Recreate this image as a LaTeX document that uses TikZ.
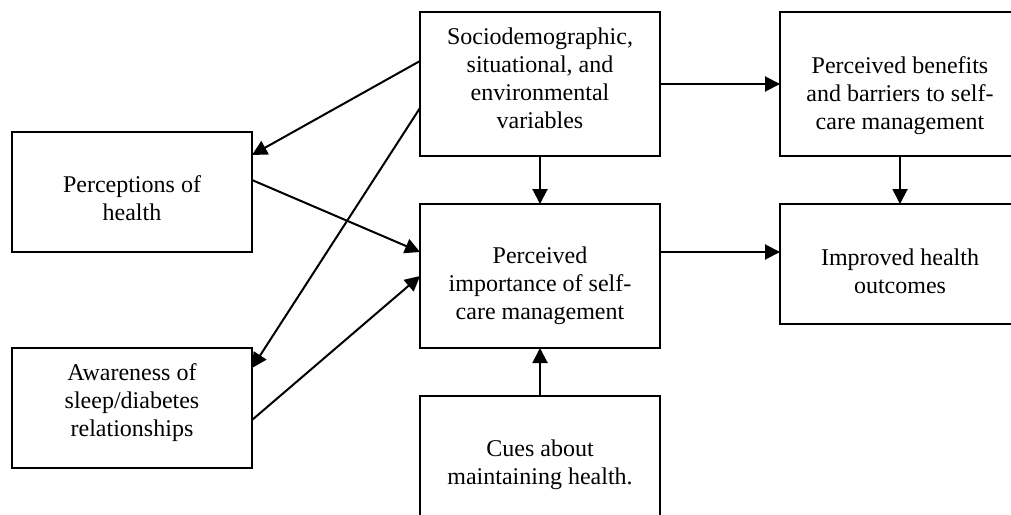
\documentclass[tikz,border=0pt]{standalone}
\usepackage{fontspec}
\setmainfont{Liberation Serif}
\usetikzlibrary{arrows.meta,positioning}

\begin{document}
\begin{tikzpicture}[x=0.5pt,y=-0.5pt,line width=1pt,
  >={Triangle[length=7.5pt,width=7.5pt]},
  box/.style={draw,line width=1pt,minimum width=120pt,minimum height=72pt,
    inner sep=0pt,outer sep=0pt,align=center,font=\fontsize{12}{14}\selectfont},
  short/.style={minimum height=60pt}]
\useasboundingbox (0,0) rectangle (1011,514);
\clip (0,0) rectangle (1011,514);
% struts only nudge the text inside the boxes
\node[box] (socio) at (540,84) {Sociodemographic,\\situational, and\\environmental\\variables\rule[-6.2pt]{0pt}{0pt}};
\node[box] (benef) [right=60pt of socio] {\rule{0pt}{20.4pt}Perceived benefits\\and barriers to self-\\care management};
\node[box] (imp) [below=24pt of socio] {\rule{0pt}{18pt}Perceived\\importance of self-\\care management};
\node[box] (cues) [below=24pt of imp] {Cues about\\maintaining health.\rule[-5.5pt]{0pt}{0pt}};
\node[box,short] (outc) at (900,264) {\rule{0pt}{15.4pt}Improved health\\outcomes};
\node[box,short] (percep) at (132,192) {\rule{0pt}{14.4pt}Perceptions of\\health};
\node[box,short] (aware) at (132,408) {Awareness of\\sleep/diabetes\\relationships\rule[-7.6pt]{0pt}{0pt}};
\path[->] ([yshift=11.5pt]socio.west) edge ([yshift=18.5pt]percep.east)
	([yshift=-12pt]socio.west) edge ([yshift=20pt]aware.east)
	([yshift=6pt]percep.east) edge ([yshift=12pt]imp.west)
	([yshift=-6pt]aware.east) edge (imp.west)
	(socio) edge (imp)
	(cues) edge (imp)
	(socio) edge (benef)
	(benef) edge (outc)
	([yshift=12pt]imp.east) edge ([yshift=6pt]outc.west);
\end{tikzpicture}
\end{document}
